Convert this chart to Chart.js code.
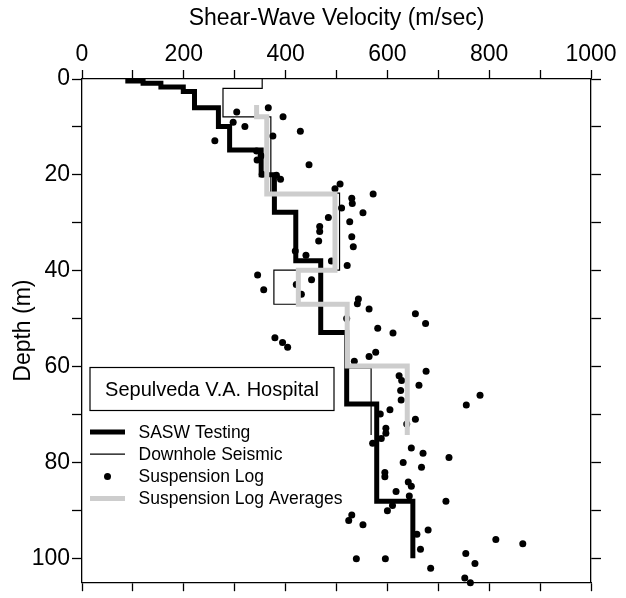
<!DOCTYPE html>
<html>
<head>
    <title>Sepulveda V.A. Hospital - Shear-Wave Velocity</title>
    <script src="https://cdn.jsdelivr.net/npm/chart.js"></script>
    <style>
        body { margin: 0; background: #fff; overflow: hidden; }
        #wrap { width: 626px; height: 598px; }
    </style>
</head>
<body>
    <div id="wrap"><canvas id="vsChart"></canvas></div>
    <script>
        // tick labels
        const velocityLabels = [0, 200, 400, 600, 800, 1000];
        const depthLabels = [0, 20, 40, 60, 80, 100];

        // SASW testing: layer velocity (m/sec) and layer bottom depth (m)
        const saswVelocity = [90, 120, 155, 199, 221, 268, 290, 352, 378, 420, 469, 520, 579, 650];
        const saswBottom = [0.4, 0.9, 1.65, 2.6, 6.0, 9.9, 14.8, 20.0, 27.8, 37.9, 52.9, 67.8, 88.1, 100.0];

        // downhole seismic
        const downholeVelocity = [354, 277, 371, 506, 377, 521, 568];
        const downholeBottom = [1.95, 7.9, 23.8, 39.9, 47.0, 60.3, 74.3];

        // suspension log averages
        const averageTop = 5.4;
        const averageVelocity = [343, 363, 497, 425, 521, 639];
        const averageBottom = [7.9, 24.0, 39.9, 47.0, 59.9, 74.3];

        // suspension log readings
        const logDepth = [6, 6.9, 7.9, 9, 9.9, 10.9, 11.9, 12.9, 15, 16, 16.9, 17.9, 19.9, 20.1, 20.9,
            21.9, 22.9, 24, 24.9, 26, 26.9, 27.9, 28.9, 29.8, 30.8, 31.8, 32.9, 33.8, 35, 35.9, 36.8,
            38, 38.9, 40.9, 41.9, 42.9, 44, 44.9, 45.9, 46.9, 48, 49, 50, 51, 52, 53, 54, 55, 56, 57,
            57.9, 58.9, 61, 61.9, 62.9, 63.9, 65, 66, 67, 68, 69, 69.9, 71, 72, 72.9, 73.9, 75, 76, 77,
            78.1, 79, 80, 81, 82.1, 83, 84.1, 85, 86.1, 87, 88.1, 89, 90.1, 91, 92.1, 93, 94.1, 95,
            96.1, 97, 98.1, 99, 100.1, 100.1, 101.1, 102.1, 104.1, 105.1];
        const logVelocity = [366, 304, 395, 297, 320, 429, 375, 261, 343, 352, 344, 446, 354, 382, 390,
            507, 497, 572, 530, 531, 510, 552, 484, 526, 467, 467, 530, 465, 533, 419, 440,
            490, 521, 345, 451, 421, 357, 431, 543, 541, 564, 655, 520, 675, 581, 611, 379, 394, 404, 577,
            564, 535, 676, 623, 628, 662, 626, 782, 627, 755, 605, 586, 655, 638, 597, 597, 588, 571, 647,
            670, 721, 631, 667, 595, 595, 641, 647, 617, 643, 715, 610, 600, 530, 524, 552, 680, 658,
            813, 866, 665, 754, 539, 596, 772, 685, 752, 763];

        const siteName = "Sepulveda V.A. Hospital";

        // turn layers into a stair line (vertical inside a layer, horizontal between layers)
        function layerPoints(vel, bottoms, top) {
            const pts = [];
            let d = top;
            for (let i = 0; i < vel.length; i++) {
                pts.push({ x: vel[i], y: d });
                pts.push({ x: vel[i], y: bottoms[i] });
                d = bottoms[i];
            }
            return pts;
        }

        const FONT = "'Liberation Sans', Arial, Helvetica, sans-serif";
        Chart.defaults.font.family = FONT;
        Chart.defaults.color = "#000";

        // site box + legend inside the plot
        const sideNotes = {
            id: "sideNotes",
            afterDraw(chart) {
                const ctx = chart.ctx;
                const a = chart.chartArea;
                ctx.save();
                // site name box
                const bx = a.left + 8, by = a.top + 288.5, bw = 244, bh = 43;
                ctx.strokeStyle = "#000";
                ctx.lineWidth = 1.2;
                ctx.strokeRect(bx, by, bw, bh);
                ctx.fillStyle = "#000";
                ctx.font = "20px " + FONT;
                ctx.textAlign = "center";
                ctx.textBaseline = "middle";
                ctx.fillText(siteName, bx + bw / 2, by + bh / 2 + 1);

                // legend rows
                const order = [0, 1, 2, 3];
                ctx.font = "17.5px " + FONT;
                ctx.textAlign = "left";
                order.forEach((di, row) => {
                    const ds = chart.data.datasets[di];
                    const y = a.top + 353 + row * 22.2;
                    const x0 = bx, x1 = bx + 35;
                    if (ds.showLine) {
                        ctx.strokeStyle = ds.borderColor;
                        ctx.lineWidth = ds.borderWidth;
                        ctx.beginPath();
                        ctx.moveTo(x0, y);
                        ctx.lineTo(x1, y);
                        ctx.stroke();
                    } else {
                        ctx.fillStyle = ds.backgroundColor;
                        ctx.beginPath();
                        ctx.arc((x0 + x1) / 2, y, ds.pointRadius, 0, Math.PI * 2);
                        ctx.fill();
                    }
                    ctx.fillStyle = "#000";
                    ctx.fillText(ds.label, bx + 48.5, y + 1);
                });
                ctx.restore();
            }
        };

        const axisLine = { display: true, color: "#000", width: 1.3 };
        const tickFont = { size: 23, family: FONT };

        new Chart(document.getElementById("vsChart"), {
            type: "scatter",
            data: {
                datasets: [
                    {
                        label: "SASW Testing",
                        data: layerPoints(saswVelocity, saswBottom, 0),
                        showLine: true,
                        borderColor: "#000",
                        borderWidth: 5,
                        pointRadius: 0,
                        borderJoinStyle: "miter",
                        borderCapStyle: "butt",
                        order: 1
                    },
                    {
                        label: "Downhole Seismic",
                        data: layerPoints(downholeVelocity, downholeBottom, 0),
                        showLine: true,
                        borderColor: "#000",
                        borderWidth: 1.2,
                        pointRadius: 0,
                        borderJoinStyle: "miter",
                        order: 2
                    },
                    {
                        label: "Suspension Log",
                        data: logVelocity.map((v, i) => ({ x: v, y: logDepth[i] })),
                        showLine: false,
                        backgroundColor: "#000",
                        borderWidth: 0,
                        pointRadius: 3.5,
                        clip: 6,
                        order: 3
                    },
                    {
                        label: "Suspension Log Averages",
                        data: layerPoints(averageVelocity, averageBottom, averageTop),
                        showLine: true,
                        borderColor: "#cdcdcd",
                        borderWidth: 5,
                        pointRadius: 0,
                        borderJoinStyle: "miter",
                        borderCapStyle: "butt",
                        order: 0
                    }
                ]
            },
            options: {
                responsive: true,
                maintainAspectRatio: false,
                animation: false,
                layout: { padding: 0 },
                plugins: { legend: { display: false }, tooltip: { enabled: false } },
                scales: {
                    x: {
                        type: "linear",
                        position: "top",
                        min: 0, max: 1000,
                        afterFit: s => { s.height = 79; },
                        ticks: {
                            stepSize: 100, autoSkip: false, maxRotation: 0, minRotation: 0,
                            padding: 2, font: tickFont, color: "#000",
                            callback: v => velocityLabels.includes(v) ? String(v) : ""
                        },
                        grid: { drawOnChartArea: false, tickLength: 9, tickColor: "#000", tickWidth: 1.3 },
                        border: axisLine,
                        title: {
                            display: true, text: "Shear-Wave Velocity (m/sec)",
                            font: { size: 23, family: FONT }, color: "#000",
                            padding: { top: 4.5, bottom: 0 }
                        }
                    },
                    x2: {
                        type: "linear",
                        position: "bottom",
                        min: 0, max: 1000,
                        afterFit: s => { s.height = 11; },
                        ticks: { stepSize: 100, autoSkip: false, display: false },
                        grid: { drawOnChartArea: false, tickLength: 9, tickColor: "#000", tickWidth: 1.3 },
                        border: axisLine
                    },
                    y: {
                        type: "linear",
                        position: "left",
                        reverse: true,
                        min: 0, max: 105,
                        afterFit: s => { s.width = 82; },
                        ticks: {
                            stepSize: 10, autoSkip: false, includeBounds: false,
                            padding: 2, font: tickFont, color: "#000",
                            callback: v => depthLabels.includes(v) ? String(v) : ""
                        },
                        grid: { drawOnChartArea: false, tickLength: 10, tickColor: "#000", tickWidth: 1.3 },
                        border: axisLine,
                        title: {
                            display: true, text: "Depth (m)",
                            font: { size: 23, family: FONT }, color: "#000",
                            padding: { top: 10, bottom: 0 }
                        }
                    },
                    y2: {
                        type: "linear",
                        position: "right",
                        reverse: true,
                        min: 0, max: 105,
                        afterFit: s => { s.width = 35; },
                        ticks: { stepSize: 10, autoSkip: false, includeBounds: false, display: false },
                        grid: { drawOnChartArea: false, tickLength: 10, tickColor: "#000", tickWidth: 1.3 },
                        border: axisLine
                    }
                }
            },
            plugins: [sideNotes]
        });
    </script>
</body>
</html>
